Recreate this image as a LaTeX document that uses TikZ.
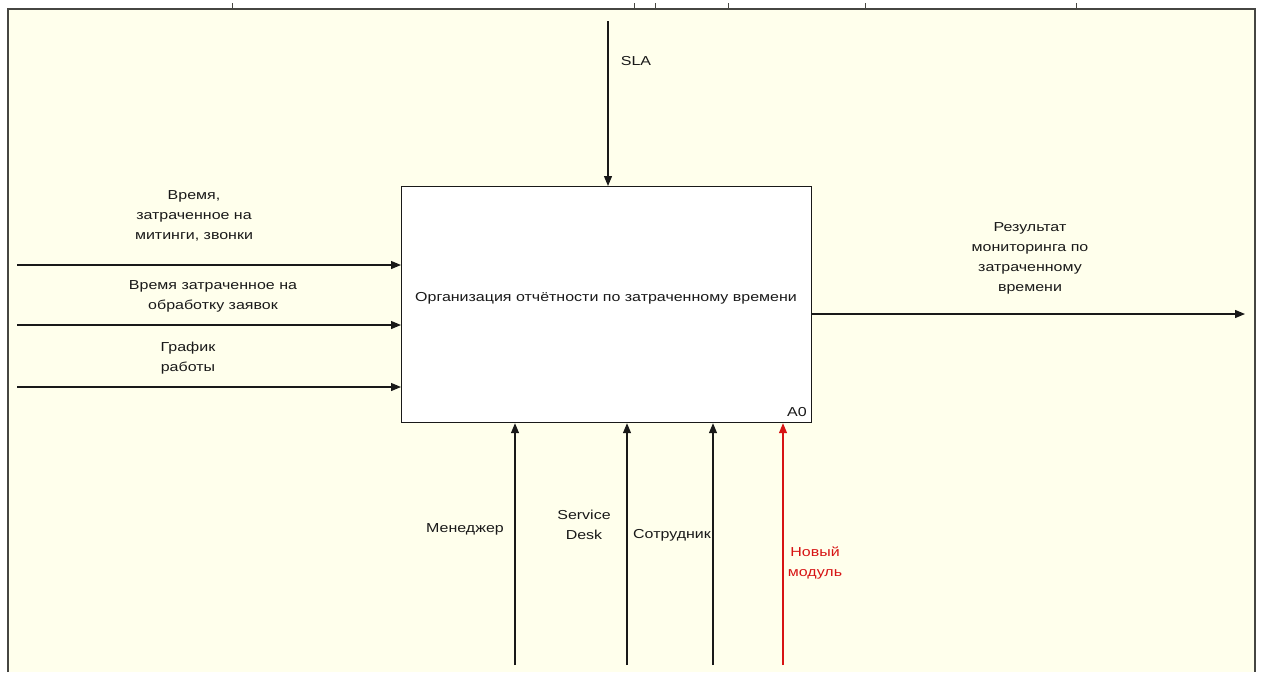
\documentclass[tikz,border=0pt]{standalone}
\usepackage{fontspec}
\setmainfont{Liberation Sans}[FakeStretch=1.23]
\usetikzlibrary{arrows.meta}
\definecolor{bg}{RGB}{255,255,236}
\definecolor{framec}{RGB}{70,70,66}
\definecolor{newred}{RGB}{215,20,20}
\definecolor{ink}{RGB}{25,25,25}
\begin{document}
\begin{tikzpicture}[x=1pt,y=-1pt,
  font=\fontsize{13}{20}\selectfont,
  arr/.style={-{Triangle[length=10pt,width=8pt]}, line width=1.2pt, draw=ink},
  redarr/.style={arr, draw=newred, -{Triangle[length=10pt,width=8pt,fill=newred]}},
  lbl/.style={align=center, inner sep=0pt, text=ink},
  tick/.style={draw=framec, line width=0.8pt}]
\useasboundingbox (0,0) rectangle (1261,672);
\fill[white] (0,0) rectangle (1261,672);
\fill[bg] (8,9) rectangle (1255,672);
\draw[framec, line width=1.8pt] (8,672) -- (8,9) -- (1255,9) -- (1255,672);
\foreach \t in {232,634,655,728,865,1076} \draw[tick] (\t,3) -- (\t,9);

% activity box
\node[draw=ink, fill=white, line width=1.2pt, minimum width=410pt, minimum height=236pt,
      anchor=north west, inner sep=0pt] (A0) at (401,186) {};
\node[lbl] (A0t) at (606,298) {Организация отчётности по затраченному времени};
\node[lbl] (A0n) at (797,412) {A0};

% inputs
\coordinate (i1) at (17,265);
\coordinate (i2) at (17,325);
\coordinate (i3) at (17,387);
\draw[arr] (i1) -- (i1 -| A0.west);
\draw[arr] (i2) -- (i2 -| A0.west);
\draw[arr] (i3) -- (i3 -| A0.west);
\node[lbl] (l1) at (194,216) {Время,\\затраченное на\\митинги, звонки};
\node[lbl] (l2) at (213,296) {Время затраченное на\\обработку заявок};
\node[lbl] (l3) at (188,358) {График\\работы};

% output
\coordinate (o1s) at (811,314);
\coordinate (o1) at (1245,314);
\draw[arr] (o1s -| A0.east) -- (o1);
\node[lbl] (lo) at (1030,258) {Результат\\мониторинга по\\затраченному\\времени};

% control
\coordinate (c1) at (608,21);
\draw[arr] (c1) -- (c1 |- A0.north);
\node[lbl] (lc) at (636,61) {SLA};

% mechanisms
\coordinate (m1) at (515,665);
\coordinate (m2) at (627,665);
\coordinate (m3) at (713,665);
\coordinate (m4) at (783,665);
\draw[arr] (m1) -- (m1 |- A0.south);
\draw[arr] (m2) -- (m2 |- A0.south);
\draw[arr] (m3) -- (m3 |- A0.south);
\draw[redarr] (m4) -- (m4 |- A0.south);
\node[lbl] (lm1) at (465,529) {Менеджер};
\node[lbl] (lm2) at (584,525) {Service\\Desk};
\node[lbl] (lm3) at (672,535) {Сотрудник};
\node[lbl, text=newred] (lm4) at (815,563) {Новый\\модуль};
\end{tikzpicture}
\end{document}
